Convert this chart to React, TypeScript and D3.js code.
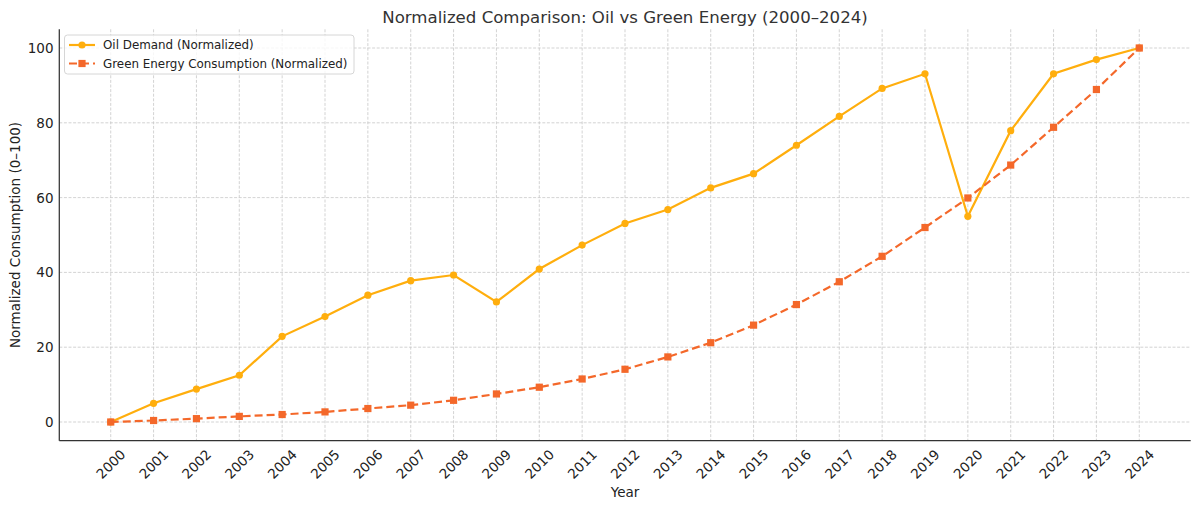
import * as d3 from 'd3'

const years = [
  2000, 2001, 2002, 2003, 2004, 2005, 2006, 2007, 2008, 2009, 2010, 2011, 2012,
  2013, 2014, 2015, 2016, 2017, 2018, 2019, 2020, 2021, 2022, 2023, 2024,
]
const oilDemand = [
  0, 5.0, 8.8, 12.5, 22.9, 28.2, 33.9, 37.8, 39.3, 32.1, 40.9, 47.3, 53.1,
  56.8, 62.6, 66.4, 74.0, 81.7, 89.2, 93.1, 55.0, 77.9, 93.1, 96.9, 100,
]
const greenEnergy = [
  0, 0.4, 0.9, 1.5, 2.0, 2.7, 3.6, 4.5, 5.8, 7.5, 9.3, 11.5, 14.1,
  17.4, 21.2, 25.9, 31.4, 37.5, 44.3, 52.0, 59.9, 68.7, 78.8, 88.9, 100,
]
const yTicks = [0, 20, 40, 60, 80, 100]

const W = 1199
const H = 509
const left = 59.3
const right = 1190.7
const top = 29.3
const bottom = 440.7
const FONT = 'DejaVu Sans, sans-serif'
const OIL = '#ffae0d'
const GREEN = '#f4682a'

export default function App() {
  const x = d3.scaleLinear().domain([1998.8, 2025.2]).range([left, right])
  const y = d3.scaleLinear().domain([-5, 105]).range([bottom, top])

  const line = d3
    .line<number>()
    .x((_, i) => x(years[i]))
    .y(d => y(d))

  return (
    <div style={{ position: 'absolute', left: 0, top: 0 }}>
      <svg width={W} height={H} style={{ display: 'block', fontFamily: FONT }}>
        <rect width={W} height={H} fill="#fff" />

        {/* grid */}
        <g stroke="#c8c8c8" strokeWidth={0.8} strokeDasharray="3,1.6">
          {years.map(yr => (
            <line key={'gx' + yr} x1={x(yr)} x2={x(yr)} y1={top} y2={bottom} />
          ))}
          {yTicks.map(t => (
            <line key={'gy' + t} x1={left} x2={right} y1={y(t)} y2={y(t)} />
          ))}
        </g>

        {/* spines */}
        <line x1={left} x2={left} y1={top} y2={bottom} stroke="#333" strokeWidth={1.25} />
        <line x1={left} x2={right} y1={bottom} y2={bottom} stroke="#333" strokeWidth={1.25} />

        {/* y ticks */}
        {yTicks.map(t => (
          <text
            key={'ty' + t}
            x={53.5}
            y={y(t)}
            textAnchor="end"
            dominantBaseline="central"
            fontSize={13.5}
            fill="#222"
          >
            {t}
          </text>
        ))}

        {/* x ticks */}
        {years.map(yr => (
          <text
            key={'tx' + yr}
            transform={`translate(${x(yr)},464) rotate(-45)`}
            textAnchor="middle"
            dominantBaseline="central"
            fontSize={13.5}
            fill="#222"
          >
            {yr}
          </text>
        ))}

        {/* series */}
        <path d={line(oilDemand) ?? ''} fill="none" stroke={OIL} strokeWidth={2.2} />
        {oilDemand.map((v, i) => (
          <circle key={'o' + i} cx={x(years[i])} cy={y(v)} r={3.6} fill={OIL} />
        ))}
        <path
          d={line(greenEnergy) ?? ''}
          fill="none"
          stroke={GREEN}
          strokeWidth={2.2}
          strokeDasharray="8,4"
        />
        {greenEnergy.map((v, i) => (
          <rect
            key={'g' + i}
            x={x(years[i]) - 3.6}
            y={y(v) - 3.6}
            width={7.2}
            height={7.2}
            fill={GREEN}
          />
        ))}

        {/* labels */}
        <text x={625} y={22.5} textAnchor="middle" fontSize={16.6} fill="#333">
          Normalized Comparison: Oil vs Green Energy (2000–2024)
        </text>
        <text x={625} y={497} textAnchor="middle" fontSize={13.5} fill="#222">
          Year
        </text>
        <text
          transform={`translate(19.5,${(top + bottom) / 2}) rotate(-90)`}
          textAnchor="middle"
          fontSize={13.5}
          fill="#222"
        >
          Normalized Consumption (0–100)
        </text>

        {/* legend */}
        <g>
          <rect
            x={64.5}
            y={35}
            width={289.5}
            height={39}
            rx={3}
            fill="#fff"
            fillOpacity={0.8}
            stroke="#d6d6d6"
            strokeWidth={1}
          />
          <line x1={69} x2={95} y1={45} y2={45} stroke={OIL} strokeWidth={2.2} />
          <circle cx={82} cy={45} r={3.6} fill={OIL} />
          <text x={103} y={45} dominantBaseline="central" fontSize={11.9} fill="#222">
            Oil Demand (Normalized)
          </text>
          <line
            x1={69}
            x2={95}
            y1={63.5}
            y2={63.5}
            stroke={GREEN}
            strokeWidth={2.2}
            strokeDasharray="8,4"
          />
          <rect x={78.4} y={59.9} width={7.2} height={7.2} fill={GREEN} />
          <text x={103} y={63.5} dominantBaseline="central" fontSize={11.9} fill="#222">
            Green Energy Consumption (Normalized)
          </text>
        </g>
      </svg>
    </div>
  )
}
